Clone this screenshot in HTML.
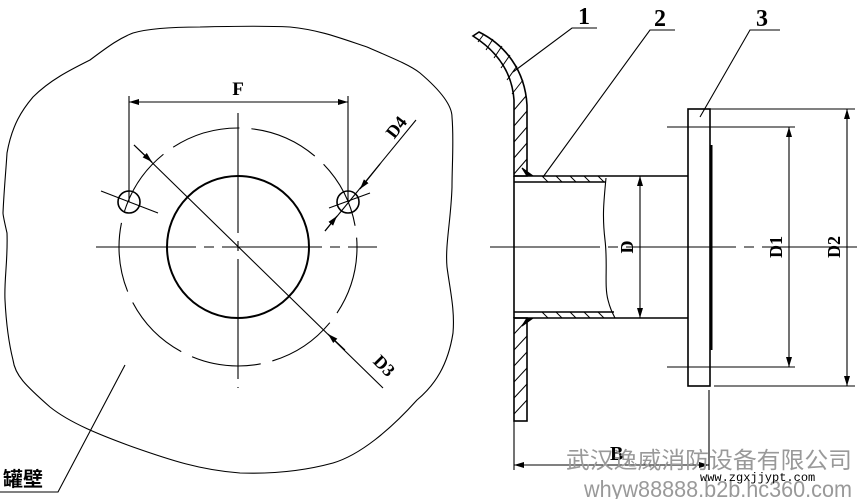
<!DOCTYPE html>
<html><head><meta charset="utf-8"><style>
html,body{margin:0;padding:0;background:#fff;}
svg{display:block;}
</style></head><body>
<svg width="857" height="499" viewBox="0 0 857 499" xmlns="http://www.w3.org/2000/svg">
<defs>
<marker id="a" viewBox="0 0 10 6" refX="10" refY="3" markerWidth="10" markerHeight="6" orient="auto-start-reverse" markerUnits="userSpaceOnUse"><path d="M0,0L10,3L0,6z" fill="#000"/></marker>
</defs>
<g fill="none" stroke="#000" stroke-width="1.1">
<path d="M200,27 C240,26 270,26 290,27 C320,30 340,38 367,47 C390,57 410,65 420,73 C440,90 452,105 452,117 C454,140 452,165 452,187 C451,220 445,245 447,267 C450,290 455,310 453,333 C448,365 435,385 417,400 C390,430 360,455 333,463 C300,472 270,474 240,473 C200,470 170,460 133,447 C100,435 70,423 50,407 C25,385 15,375 13,360 C8,340 6,320 5,300 C4,280 8,260 7,233 C4,220 3,215 3,213 C4,190 6,170 7,153 C12,125 22,110 33,97 C50,80 70,70 90,60 C110,45 120,38 133,33 C150,28 175,27 200,27 Z"/>
<circle cx="238" cy="247" r="71" stroke-width="2"/>
<circle cx="238" cy="247" r="119" stroke-dasharray="70,12"/>
<circle cx="129" cy="202" r="11" stroke-width="1.6"/>
<circle cx="348" cy="202" r="11" stroke-width="1.6"/>
<line x1="96" y1="247" x2="377" y2="247" stroke-dasharray="100,8,10,8"/>
<line x1="238" y1="113" x2="238" y2="388" stroke-dasharray="120,8,10,8"/>
<line x1="101" y1="191" x2="158" y2="213"/>
<line x1="329" y1="208" x2="370" y2="193"/>
<line x1="129" y1="96" x2="129" y2="202"/>
<line x1="348" y1="96" x2="348" y2="202"/>
<line x1="129" y1="102" x2="348" y2="102" marker-start="url(#a)" marker-end="url(#a)"/>
<line x1="134" y1="145" x2="383" y2="388"/>
<line x1="134" y1="145" x2="152" y2="162" marker-end="url(#a)"/>
<line x1="345" y1="350" x2="328" y2="334" marker-end="url(#a)"/>
<line x1="416" y1="120" x2="325" y2="231"/>
<line x1="380" y1="164" x2="360" y2="189" marker-end="url(#a)"/>
<line x1="325" y1="231" x2="337" y2="216" marker-end="url(#a)"/>
<polyline points="125,365 58,492 0,492"/>

<line x1="490" y1="247" x2="857" y2="247" stroke-dasharray="110,8,10,8"/>
<path d="M473,36 C495,50 512,70 514,100 L514,176 L527,176 L527,105 C525,70 505,45 479,32 Z" stroke-width="1.6"/>
<rect x="514" y="318" width="13" height="103" stroke-width="1.6"/>
<g stroke-width="1">
<line x1="478" y1="42" x2="484" y2="34"/><line x1="486" y1="50" x2="493" y2="39"/><line x1="494" y1="58" x2="502" y2="46"/><line x1="501" y1="68" x2="510" y2="55"/><line x1="507" y1="80" x2="517" y2="66"/><line x1="512" y1="94" x2="523" y2="80"/><line x1="514" y1="110" x2="526" y2="96"/><line x1="514" y1="126" x2="527" y2="111"/><line x1="514" y1="142" x2="527" y2="127"/><line x1="514" y1="158" x2="527" y2="143"/><line x1="514" y1="174" x2="527" y2="159"/>
<line x1="514" y1="334" x2="527" y2="320"/><line x1="514" y1="350" x2="527" y2="336"/><line x1="514" y1="366" x2="527" y2="352"/><line x1="514" y1="382" x2="527" y2="368"/><line x1="514" y1="398" x2="527" y2="384"/><line x1="514" y1="414" x2="527" y2="400"/>
<line x1="548" y1="182" x2="542" y2="176"/><line x1="562" y1="182" x2="556" y2="176"/><line x1="576" y1="182" x2="570" y2="176"/><line x1="590" y1="182" x2="584" y2="176"/><line x1="604" y1="182" x2="598" y2="176"/>
<line x1="548" y1="318" x2="542" y2="312"/><line x1="562" y1="318" x2="556" y2="312"/><line x1="576" y1="318" x2="570" y2="312"/><line x1="590" y1="318" x2="584" y2="312"/><line x1="604" y1="318" x2="598" y2="312"/>
</g>
<line x1="514" y1="176" x2="688" y2="176" stroke-width="1.6"/>
<line x1="514" y1="182" x2="606" y2="182" stroke-width="1.4"/>
<line x1="514" y1="318" x2="688" y2="318" stroke-width="1.6"/>
<line x1="514" y1="312" x2="614" y2="312" stroke-width="1.4"/>
<line x1="514" y1="176" x2="514" y2="318" stroke-width="1.6"/>
<path d="M606,178 C604,200 602,215 605,240 C608,265 604,285 608,300 C610,308 612,312 615,318"/>
<path d="M527,176 L522,168 L533,176 Z M527,318 L522,326 L533,318 Z" fill="#000"/>
<rect x="688" y="109" width="22" height="277" stroke-width="1.6"/>
<line x1="711" y1="145" x2="711" y2="350" stroke-width="3"/>
<line x1="640" y1="176" x2="640" y2="318" marker-start="url(#a)" marker-end="url(#a)"/>
<line x1="667" y1="127" x2="795" y2="127"/>
<line x1="667" y1="367" x2="795" y2="367"/>
<line x1="789" y1="127" x2="789" y2="367" marker-start="url(#a)" marker-end="url(#a)"/>
<line x1="710" y1="109" x2="855" y2="109"/>
<line x1="714" y1="386" x2="855" y2="386"/>
<line x1="847" y1="109" x2="847" y2="386" marker-start="url(#a)" marker-end="url(#a)"/>
<line x1="514" y1="421" x2="514" y2="470"/>
<line x1="709" y1="390" x2="709" y2="470"/>
<line x1="514" y1="465" x2="709" y2="465" marker-start="url(#a)" marker-end="url(#a)"/>
<polyline points="513,72 572,28 597,28"/>
<polyline points="543,177 650,30 675,30"/>
<polyline points="700,117 750,30 780,30"/>
</g>
<g font-family="Liberation Serif, serif" font-weight="bold" fill="#000">
<text x="238" y="95" font-size="19" text-anchor="middle">F</text>
<text x="578" y="24" font-size="24">1</text>
<text x="654" y="26" font-size="24">2</text>
<text x="756" y="26" font-size="24">3</text>
<text x="610" y="460" font-size="20">B</text>
<text transform="translate(633,247) rotate(-90)" font-size="18" text-anchor="middle">D</text>
<text transform="translate(782,247) rotate(-90)" font-size="18" text-anchor="middle">D1</text>
<text transform="translate(840,247) rotate(-90)" font-size="18" text-anchor="middle">D2</text>
<text transform="translate(401,131) rotate(-52)" font-size="18" text-anchor="middle">D4</text>
<text transform="translate(380,370) rotate(45)" font-size="18" text-anchor="middle">D3</text>
<text x="3" y="486" font-size="20" font-family="Liberation Sans, Noto Sans CJK SC, sans-serif">罐壁</text>
</g>
<text x="566" y="468" font-size="23" fill="#999" textLength="286" lengthAdjust="spacingAndGlyphs" font-family="Liberation Sans, Noto Sans CJK SC, sans-serif">武汉逸威消防设备有限公司</text>
<text x="584" y="497" font-size="23" fill="#999" textLength="268" lengthAdjust="spacingAndGlyphs" font-family="Liberation Sans, sans-serif">whyw88888.b2b.hc360.com</text>
<text x="700" y="481" font-size="12" fill="#000" font-family="Liberation Mono, monospace">www.zgxjjypt.com</text>
</svg>
</body></html>
